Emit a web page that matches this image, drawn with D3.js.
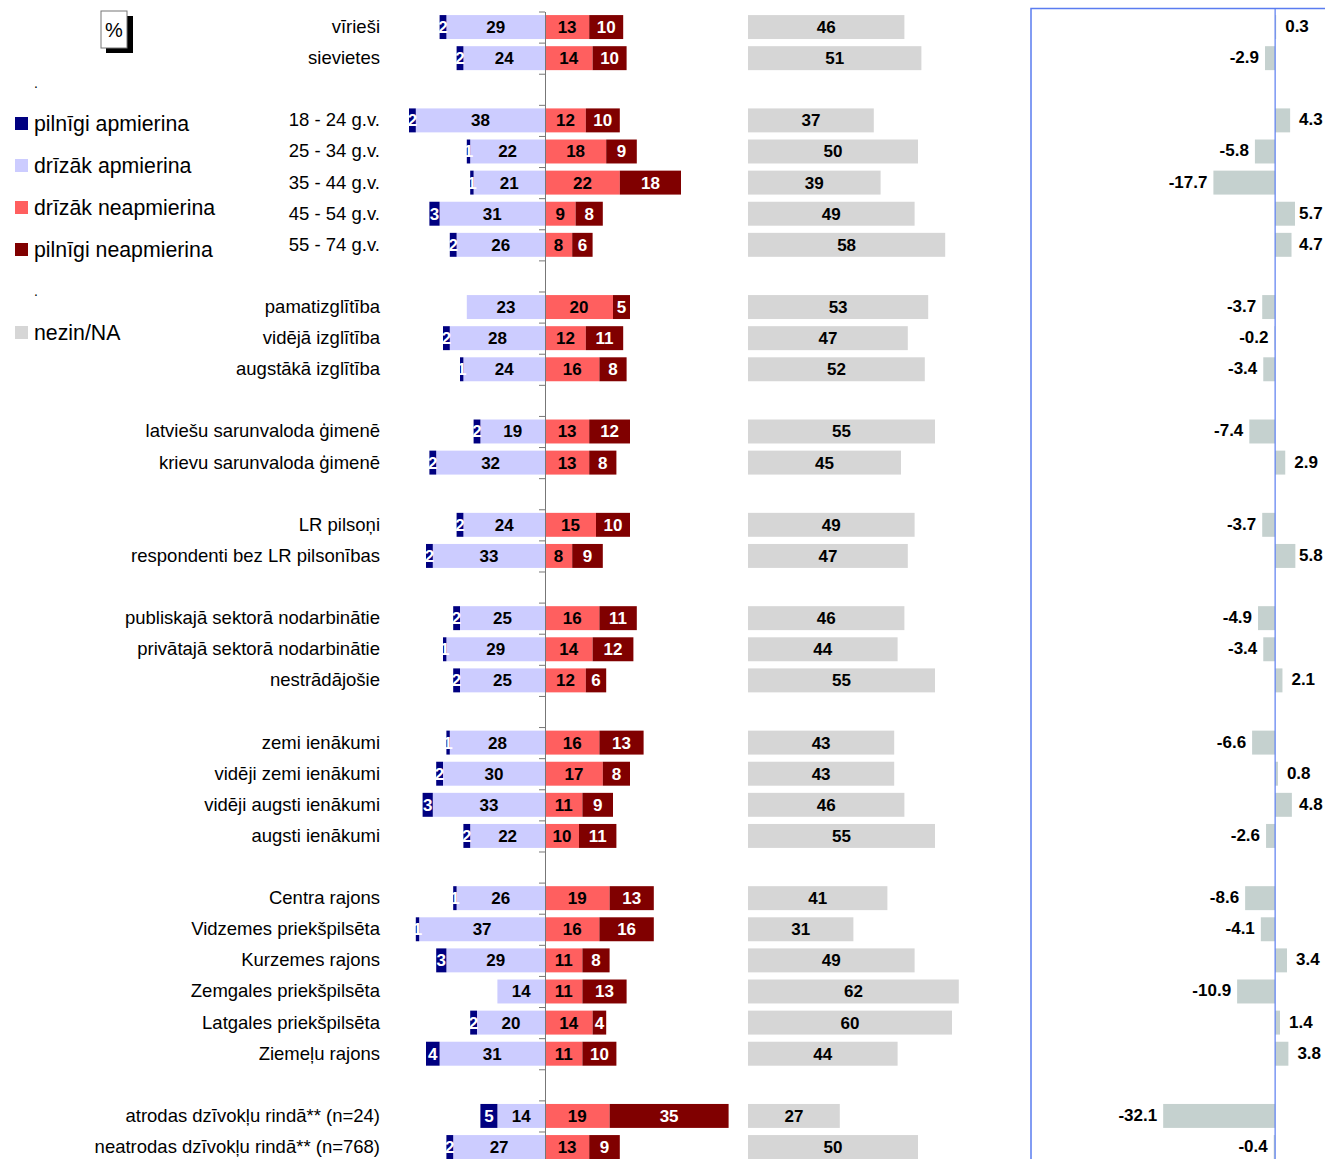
<!DOCTYPE html>
<html lang="lv">
<head>
    <meta charset="UTF-8" />
    <title>Apmierinātība</title>
    <script src="https://d3js.org/d3.v7.min.js"></script>
    <style>
        body { margin: 0; background: #fff; }
        svg text { font-family: "Liberation Sans", Arial, sans-serif; }
    </style>
</head>
<body>
    <script>
        var w = 1325;
        var h = 1159;

        // rows, "" = empty spacer row
        var categories = [
            "vīrieši", "sievietes", "",
            "18 - 24 g.v.", "25 - 34 g.v.", "35 - 44 g.v.", "45 - 54 g.v.", "55 - 74 g.v.", "",
            "pamatizglītība", "vidējā izglītība", "augstākā izglītība", "",
            "latviešu sarunvaloda ģimenē", "krievu sarunvaloda ģimenē", "",
            "LR pilsoņi", "respondenti bez LR pilsonības", "",
            "publiskajā sektorā nodarbinātie", "privātajā sektorā nodarbinātie", "nestrādājošie", "",
            "zemi ienākumi", "vidēji zemi ienākumi", "vidēji augsti ienākumi", "augsti ienākumi", "",
            "Centra rajons", "Vidzemes priekšpilsēta", "Kurzemes rajons", "Zemgales priekšpilsēta",
            "Latgales priekšpilsēta", "Ziemeļu rajons", "",
            "atrodas dzīvokļu rindā** (n=24)", "neatrodas dzīvokļu rindā** (n=768)"
        ];

        var pilnigiApm = [2, 2, null, 2, 1, 1, 3, 2, null, 0, 2, 1, null, 2, 2, null, 2, 2, null,
            2, 1, 2, null, 1, 2, 3, 2, null, 1, 1, 3, 0, 2, 4, null, 5, 2];
        var drizakApm = [29, 24, null, 38, 22, 21, 31, 26, null, 23, 28, 24, null, 19, 32, null, 24, 33, null,
            25, 29, 25, null, 28, 30, 33, 22, null, 26, 37, 29, 14, 20, 31, null, 14, 27];
        var drizakNeapm = [13, 14, null, 12, 18, 22, 9, 8, null, 20, 12, 16, null, 13, 13, null, 15, 8, null,
            16, 14, 12, null, 16, 17, 11, 10, null, 19, 16, 11, 11, 14, 11, null, 19, 13];
        var pilnigiNeapm = [10, 10, null, 10, 9, 18, 8, 6, null, 5, 11, 8, null, 12, 8, null, 10, 9, null,
            11, 12, 6, null, 13, 8, 9, 11, null, 13, 16, 8, 13, 4, 10, null, 35, 9];
        var nezin = [46, 51, null, 37, 50, 39, 49, 58, null, 53, 47, 52, null, 55, 45, null, 49, 47, null,
            46, 44, 55, null, 43, 43, 46, 55, null, 41, 31, 49, 62, 60, 44, null, 27, 50];
        var starpiba = [0.3, -2.9, null, 4.3, -5.8, -17.7, 5.7, 4.7, null, -3.7, -0.2, -3.4, null, -7.4, 2.9, null,
            -3.7, 5.8, null, -4.9, -3.4, 2.1, null, -6.6, 0.8, 4.8, -2.6, null, -8.6, -4.1, 3.4, -10.9, 1.4, 3.8,
            null, -32.1, -0.4];

        var legendLabels = ["pilnīgi apmierina", "drīzāk apmierina", "drīzāk neapmierina", "pilnīgi neapmierina"];
        var legendColors = ["#000080", "#ccccff", "#ff5f5f", "#800000"];

        var svg = d3.select("body")
            .append("svg")
            .attr("width", w)
            .attr("height", h);

        var yTop = 11.5, yBottom = 1162.6;
        var yScale = d3.scaleBand()
            .domain(d3.range(categories.length))
            .range([yTop, yBottom])
            .paddingInner(0.23)
            .paddingOuter(0.115);

        var x0 = 545; // center axis
        var unit = d3.scaleLinear().domain([0, 100]).range([0, 340]);
        var greyStart = 748;
        var diffScale = d3.scaleLinear().domain([-70, 14.3]).range([1031, 1325]);

        function midY(i) { return yScale(i) + yScale.bandwidth() / 2; }

        // build stacked segments
        var segments = [];
        categories.forEach(function(c, i) {
            if (drizakApm[i] == null) return;
            segments.push({ i: i, x: x0 - unit(drizakApm[i]), v: drizakApm[i], fill: legendColors[1], txt: "#000" });
            segments.push({ i: i, x: x0 - unit(drizakApm[i] + pilnigiApm[i]), v: pilnigiApm[i], fill: legendColors[0], txt: "#fff" });
            segments.push({ i: i, x: x0, v: drizakNeapm[i], fill: legendColors[2], txt: "#000" });
            segments.push({ i: i, x: x0 + unit(drizakNeapm[i]), v: pilnigiNeapm[i], fill: legendColors[3], txt: "#fff" });
            segments.push({ i: i, x: greyStart, v: nezin[i], fill: "#d6d6d6", txt: "#000" });
        });

        svg.selectAll("rect.seg")
            .data(segments)
            .enter()
            .append("rect")
            .attr("class", "seg")
            .attr("x", function(d) { return d.x; })
            .attr("y", function(d) { return yScale(d.i); })
            .attr("width", function(d) { return unit(d.v); })
            .attr("height", yScale.bandwidth())
            .attr("fill", function(d) { return d.fill; });

        svg.selectAll("text.seg")
            .data(segments.filter(function(d) { return d.v > 0; }))
            .enter()
            .append("text")
            .attr("class", "seg")
            .attr("x", function(d) { return d.x + unit(d.v) / 2; })
            .attr("y", function(d) { return midY(d.i) + 6; })
            .attr("text-anchor", "middle")
            .attr("font-size", "17px")
            .attr("font-weight", "bold")
            .attr("fill", function(d) { return d.txt; })
            .text(function(d) { return d.v; });

        // center axis with ticks between rows
        var tickScale = d3.scaleLinear().domain([0, categories.length]).range([yTop, yBottom]);
        var axis = svg.append("g")
            .attr("transform", "translate(" + x0 + ",0)")
            .call(d3.axisLeft(tickScale)
                .tickValues(d3.range(categories.length + 1))
                .tickFormat("")
                .tickSize(6)
                .tickSizeOuter(0));
        axis.selectAll("path, line").attr("stroke", "#777");

        // category labels
        svg.selectAll("text.cat")
            .data(categories)
            .enter()
            .append("text")
            .attr("class", "cat")
            .attr("x", 380)
            .attr("y", function(d, i) { return midY(i) + 6; })
            .attr("text-anchor", "end")
            .attr("font-size", "18.5px")
            .attr("fill", "#000")
            .text(function(d) { return d; });

        // right panel: difference
        svg.append("path")
            .attr("d", "M" + diffScale(-70) + "," + (h + 2) + "V8.5H" + (w + 2))
            .attr("fill", "none")
            .attr("stroke", "#5a7cf0")
            .attr("stroke-width", 1.5);

        var diffs = starpiba.map(function(v, i) { return { i: i, v: v }; })
            .filter(function(d) { return d.v != null; });

        svg.selectAll("rect.diff")
            .data(diffs)
            .enter()
            .append("rect")
            .attr("class", "diff")
            .attr("x", function(d) { return diffScale(Math.min(0, d.v)); })
            .attr("y", function(d) { return yScale(d.i); })
            .attr("width", function(d) { return Math.abs(diffScale(d.v) - diffScale(0)); })
            .attr("height", yScale.bandwidth())
            .attr("fill", "#c5d1cf");

        svg.append("line")
            .attr("x1", diffScale(0)).attr("x2", diffScale(0))
            .attr("y1", 8.5).attr("y2", h)
            .attr("stroke", "#5a7cf0")
            .attr("stroke-width", 1.2);

        svg.selectAll("text.diff")
            .data(diffs)
            .enter()
            .append("text")
            .attr("class", "diff")
            .attr("x", function(d) {
                return d.v >= 0 ? Math.min(diffScale(d.v) + 9, 1299) : diffScale(d.v) - 6;
            })
            .attr("y", function(d) { return midY(d.i) + 5; })
            .attr("text-anchor", function(d) { return d.v >= 0 ? "start" : "end"; })
            .attr("font-size", "17px")
            .attr("font-weight", "bold")
            .attr("fill", "#000")
            .text(function(d) { return d.v.toFixed(1); });

        // legend
        var legend = svg.append("g");
        var legendY = [124, 166, 208, 250];
        legendLabels.forEach(function(l, k) {
            legend.append("rect")
                .attr("x", 15).attr("y", legendY[k] - 7)
                .attr("width", 13).attr("height", 13)
                .attr("fill", legendColors[k]);
            legend.append("text")
                .attr("x", 34).attr("y", legendY[k] + 7)
                .attr("font-size", "21.3px")
                .attr("fill", "#000")
                .text(l);
        });
        legend.append("rect")
            .attr("x", 15).attr("y", 326)
            .attr("width", 13).attr("height", 13)
            .attr("fill", "#d6d6d6");
        legend.append("text")
            .attr("x", 34).attr("y", 340)
            .attr("font-size", "21.3px")
            .attr("fill", "#000")
            .text("nezin/NA");
        [88, 296].forEach(function(y) {
            legend.append("text")
                .attr("x", 34).attr("y", y)
                .attr("font-size", "14px")
                .text(".");
        });

        // % box
        svg.append("rect")
            .attr("x", 106).attr("y", 16)
            .attr("width", 27).attr("height", 37)
            .attr("fill", "#000");
        svg.append("rect")
            .attr("x", 101).attr("y", 11)
            .attr("width", 26).attr("height", 37)
            .attr("fill", "#fff")
            .attr("stroke", "#777");
        svg.append("text")
            .attr("x", 114).attr("y", 37)
            .attr("text-anchor", "middle")
            .attr("font-size", "20px")
            .text("%");
    </script>
</body>
</html>
